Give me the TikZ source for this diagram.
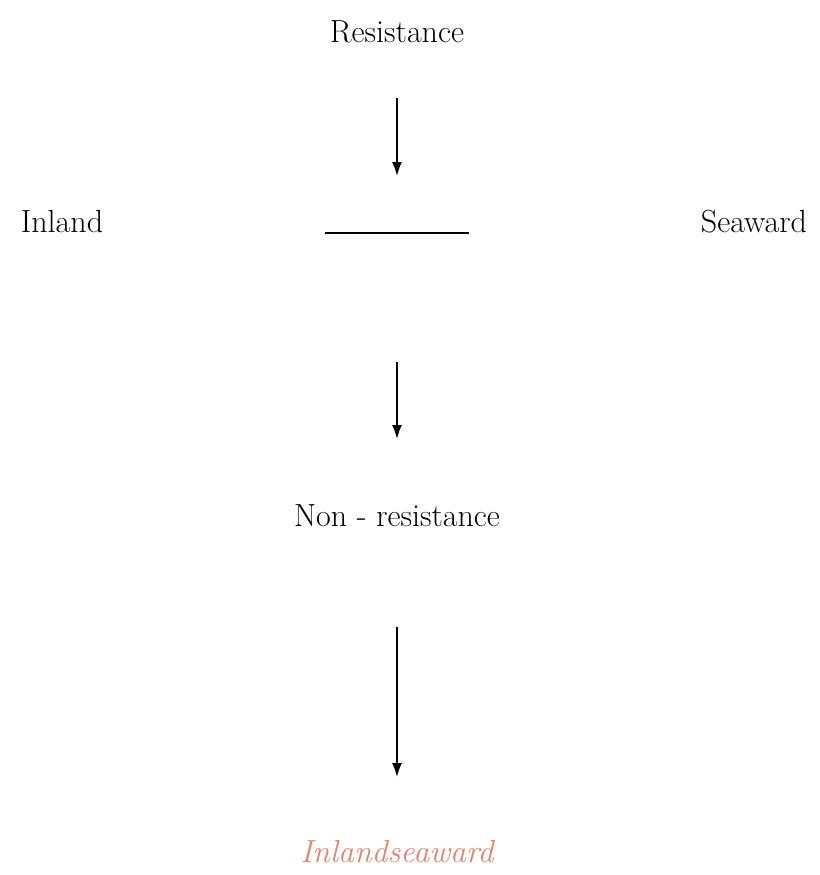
\documentclass[tikz,border=0pt]{standalone}
\usepackage{tikz}
\usetikzlibrary{arrows.meta}
\definecolor{salmon}{HTML}{E8826A}
\begin{document}
\begin{tikzpicture}[x=0.5pt, y=-0.5pt,
    lbl/.style={font=\fontsize{16}{19}\selectfont, inner sep=0pt},
    flow/.style={line width=0.8pt, -{Latex[length=7pt,width=5pt]}}]
				\useasboundingbox (0,0) rectangle (820,875);
				% Labels
				\node[lbl] (res) at (397,32) {Resistance};
				\node[lbl] (inland) at (62,222) {Inland};
				\node[lbl] (seaward) at (754,222) {Seaward};
				\node[lbl] (nonres) at (397,516) {Non - resistance};
				\node[lbl, text=salmon, font=\fontsize{16}{19}\selectfont\itshape] (result) at (397,852) {Inlandseaward};
				
				% Arrow ends and bar
				\coordinate (a1s) at (397,98);  \coordinate (a1e) at (397,176);
				\coordinate (bl) at (325,233);  \coordinate (br) at (469,233);
				\coordinate (a2s) at (397,362); \coordinate (a2e) at (397,439);
				\coordinate (a3s) at (397,627); \coordinate (a3e) at (397,777);
				
				\draw[flow] (a1s) -- (a1e);
				\draw[line width=1pt] (bl) -- (br);
				\draw[flow] (a2s) -- (a2e);
				\draw[flow] (a3s) -- (a3e);
\end{tikzpicture}
\end{document}
